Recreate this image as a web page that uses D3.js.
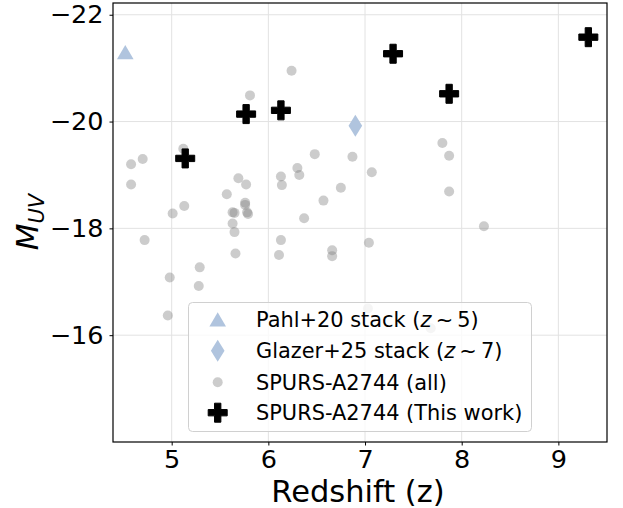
<!DOCTYPE html>
<html>
<head>
<meta charset="utf-8">
<script src="https://cdn.jsdelivr.net/npm/d3@7"></script>
<style>
  html, body { margin: 0; padding: 0; background: #fff; }
  svg { display: block; font-family: "DejaVu Sans", sans-serif; }
</style>
</head>
<body>
<svg id="chart" width="623" height="508"></svg>
<script>
// ---- data ----
const allZ = [5.12, 4.70, 4.58, 4.58, 5.69, 5.57, 5.13, 5.01, 5.63, 5.65, 5.63, 5.65, 4.72, 5.66, 5.29, 4.98, 5.28, 4.96,
              6.24, 5.81, 6.48, 6.87, 6.30, 6.32, 5.77, 6.13, 6.14, 6.75, 6.57, 5.76, 5.76, 5.78, 5.79, 6.37, 6.13, 6.11,
              6.66, 6.66, 7.07, 7.04, 7.80, 7.87, 7.87, 8.23, 7.03, 7.68];
const allM = [-19.49, -19.30, -19.20, -18.82, -18.94, -18.64, -18.42, -18.28, -18.30, -18.29, -18.09, -17.93, -17.78, -17.53, -17.27, -17.08, -16.92, -16.37,
              -20.95, -20.49, -19.39, -19.34, -19.13, -19.00, -18.82, -18.97, -18.81, -18.76, -18.52, -18.48, -18.44, -18.30, -18.27, -18.19, -17.78, -17.50,
              -17.59, -17.48, -19.05, -17.73, -19.60, -19.36, -18.69, -18.04, -16.50, -16.13];
const workZ = [5.14, 5.77, 6.13, 7.29, 7.87, 9.31];
const workM = [-19.31, -20.14, -20.21, -21.27, -20.52, -21.58];
const pahlZ = [4.52];
const pahlM = [-21.30];
const glazerZ = [6.90];
const glazerM = [-19.92];
const xTicks = [5, 6, 7, 8, 9];
const yTicks = [-22, -20, -18, -16];
const legendLabels = ["Pahl+20 stack (z\u2009~\u20095)", "Glazer+25 stack (z\u2009~\u20097)", "SPURS-A2744 (all)", "SPURS-A2744 (This work)"];

// ---- layout ----
const svg = d3.select("#chart");
const L = 113, R = 607, T = 3, B = 442;
const x = d3.scaleLinear().domain([4.393, 9.503]).range([L, R]);
const y = d3.scaleLinear().domain([-22.22, -14.0]).range([T, B]);
const blue = "#b0c4de";

// grid
const grid = svg.append("g");
grid.selectAll("line.gx").data(xTicks).join("line")
  .attr("x1", d => x(d)).attr("x2", d => x(d)).attr("y1", T).attr("y2", B)
  .attr("stroke", "#e2e2e2").attr("stroke-width", 1);
grid.selectAll("line.gy").data(yTicks).join("line")
  .attr("y1", d => y(d)).attr("y2", d => y(d)).attr("x1", L).attr("x2", R)
  .attr("stroke", "#e2e2e2").attr("stroke-width", 1);

// grey points
svg.append("g").selectAll("circle").data(allZ.map((z, i) => [z, allM[i]])).join("circle")
  .attr("cx", d => x(d[0])).attr("cy", d => y(d[1])).attr("r", 5)
  .attr("fill", "#808080").attr("fill-opacity", 0.4);

// shapes
function triPath(s) {
  return `M0,${-s*0.86}L${s},${s*0.86}L${-s},${s*0.86}Z`;
}
function diamondPath(w, h) {
  return `M0,${-h}L${w},0L0,${h}L${-w},0Z`;
}
function plusPath(s) {
  const a = s / 3;
  return `M${-a},${-s}H${a}V${-a}H${s}V${a}H${a}V${s}H${-a}V${a}H${-s}V${-a}H${-a}Z`;
}

svg.append("g").selectAll("path").data(pahlZ.map((z, i) => [z, pahlM[i]])).join("path")
  .attr("transform", d => `translate(${x(d[0])},${y(d[1])})`)
  .attr("d", triPath(8.3)).attr("fill", blue);

svg.append("g").selectAll("path").data(glazerZ.map((z, i) => [z, glazerM[i]])).join("path")
  .attr("transform", d => `translate(${x(d[0])},${y(d[1])})`)
  .attr("d", diamondPath(6.8, 11)).attr("fill", blue);

svg.append("g").selectAll("path").data(workZ.map((z, i) => [z, workM[i]])).join("path")
  .attr("transform", d => `translate(${x(d[0])},${y(d[1])})`)
  .attr("d", plusPath(9.5)).attr("fill", "#000").attr("stroke", "#000").attr("stroke-width", 1);

// axes
const xAxis = svg.append("g").attr("transform", `translate(0,${B})`)
  .call(d3.axisBottom(x).tickValues(xTicks).tickSize(3.5).tickPadding(4).tickFormat(d3.format("d")));
const yAxis = svg.append("g").attr("transform", `translate(${L},0)`)
  .call(d3.axisLeft(y).tickValues(yTicks).tickSize(3.5).tickPadding(6).tickFormat(d3.format("d")));
[xAxis, yAxis].forEach(g => {
  g.select(".domain").remove();
  g.selectAll("text").attr("font-size", 25.5).attr("font-family", "DejaVu Sans").attr("fill", "#000");
  g.selectAll("line").attr("stroke", "#000").attr("stroke-width", 1);
});

// frame
svg.append("rect").attr("x", L).attr("y", T).attr("width", R - L).attr("height", B - T)
  .attr("fill", "none").attr("stroke", "#000").attr("stroke-width", 1.2);

// axis labels
svg.append("text").attr("x", (L + R) / 2 - 2).attr("y", 502).attr("text-anchor", "middle")
  .attr("font-size", 30.5).attr("fill", "#000").text("Redshift (z)");
const yl = svg.append("text").attr("transform", "translate(38,222) rotate(-90)")
  .attr("text-anchor", "middle").attr("font-size", 31).attr("fill", "#000");
yl.append("tspan").attr("font-style", "italic").text("M");
yl.append("tspan").attr("font-style", "italic").attr("font-size", 21).attr("dy", 6).text("UV");

// legend
const lg = svg.append("g");
lg.append("rect").attr("x", 188.5).attr("y", 302.5).attr("width", 343).attr("height", 129).attr("rx", 4)
  .attr("fill", "#fff").attr("fill-opacity", 0.8).attr("stroke", "#d0d0d0").attr("stroke-width", 1);
const rowY = [319.3, 350.7, 382.3, 412.7];
const mx = 217.7;
lg.append("path").attr("transform", `translate(${mx},${rowY[0]})`).attr("d", triPath(8.3)).attr("fill", blue);
lg.append("path").attr("transform", `translate(${mx},${rowY[1]})`).attr("d", diamondPath(6.8, 11)).attr("fill", blue);
lg.append("circle").attr("cx", mx).attr("cy", rowY[2]).attr("r", 5).attr("fill", "#808080").attr("fill-opacity", 0.4);
lg.append("path").attr("transform", `translate(${mx},${rowY[3]})`).attr("d", plusPath(9.5)).attr("fill", "#000").attr("stroke", "#000");
lg.selectAll("text").data(legendLabels).join("text")
  .attr("x", 256).attr("y", (d, i) => rowY[i]).attr("dy", "0.36em")
  .attr("font-size", 20.9).attr("fill", "#000")
  .each(function(d) {
    const t = d3.select(this);
    const m = d.match(/^(.*\()z(.*)$/);
    if (m) {
      t.append("tspan").text(m[1]);
      t.append("tspan").attr("font-style", "italic").text("z");
      t.append("tspan").text(m[2]);
    } else {
      t.text(d);
    }
  });
</script>
</body>
</html>
